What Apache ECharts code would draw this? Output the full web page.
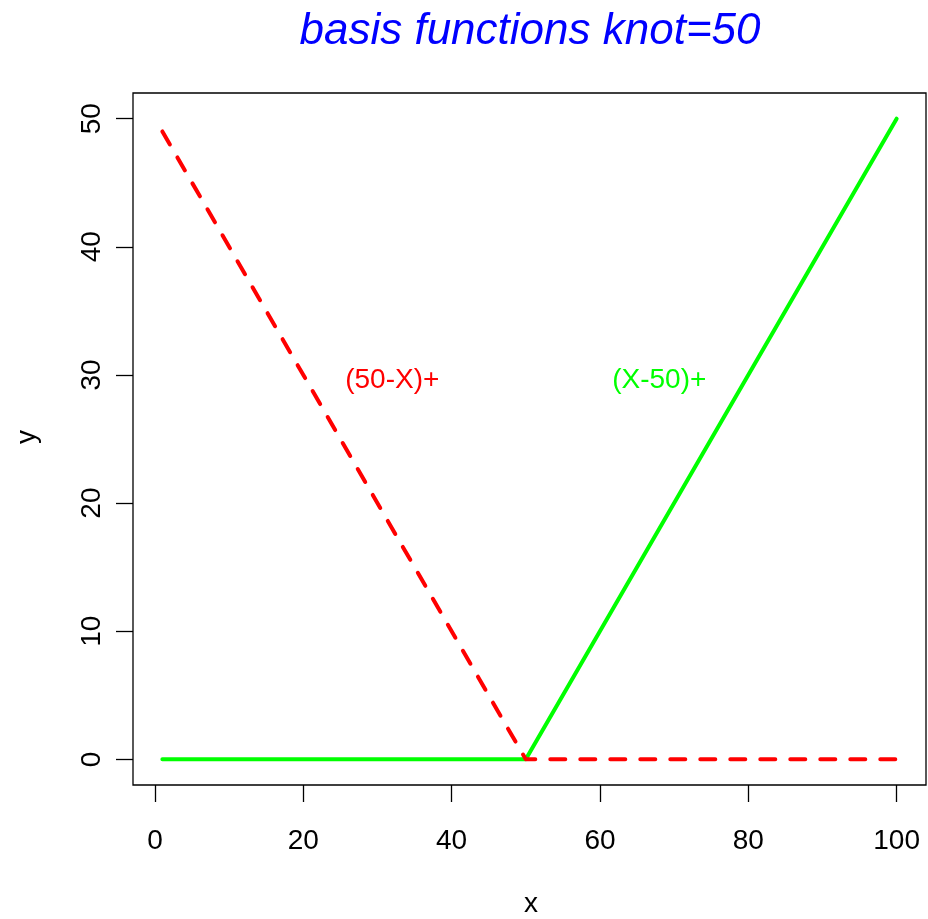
<!DOCTYPE html>
<html>
<head>
<meta charset="utf-8">
<script src="https://cdn.jsdelivr.net/npm/echarts@6/dist/echarts.min.js"></script>
<style>html,body{margin:0;padding:0;background:#fff;}#c{width:928px;height:919px;}</style>
</head>
<body>
<div id="c"></div>
<script>
// Data
var xVals = [1, 50, 100];
var redVals = [49, 0, 0];      // (50-X)+
var greenVals = [0, 0, 50];    // (X-50)+
var xTicks = [0, 20, 40, 60, 80, 100];
var yTicks = [0, 10, 20, 30, 40, 50];
var annTexts = ['(50-X)+', '(X-50)+'];
var annX = [32, 68];
var annY = [30, 30];
var annColors = ['#FF0000', '#00FF00'];
var titleText = 'basis functions knot=50';

var FONT = 'Liberation Sans';
var chart = echarts.init(document.getElementById('c'), null, {renderer: 'canvas'});

function pairs(xs, ys) { return xs.map(function (x, i) { return [x, ys[i]]; }); }

var annSeries = annTexts.map(function (t, i) {
  return {
    type: 'scatter',
    data: [[annX[i], annY[i]]],
    symbolSize: 0.001,
    silent: true,
    itemStyle: {color: annColors[i], opacity: 0},
    label: {
      show: true, position: 'inside', offset: [0, 5], formatter: t, opacity: 1,
      color: annColors[i], textBorderWidth: 0, fontFamily: FONT, fontSize: 28
    },
    z: 5
  };
});

chart.setOption({
  animation: false,
  backgroundColor: '#ffffff',
  grid: {
    left: 133, top: 93, right: 2, bottom: 134,
    show: true, borderColor: '#000', borderWidth: 1.3, backgroundColor: 'transparent'
  },
  xAxis: {
    type: 'value', min: -2.96, max: 103.96,
    axisLine: {show: false, onZero: false},
    splitLine: {show: false},
    axisTick: {show: true, customValues: xTicks, length: 17, inside: false, lineStyle: {color: '#000', width: 1.3}},
    axisLabel: {show: true, customValues: xTicks, margin: 42, color: '#000', fontFamily: FONT, fontSize: 28}
  },
  yAxis: {
    type: 'value', min: -2, max: 52,
    axisLine: {show: false, onZero: false},
    splitLine: {show: false},
    axisTick: {show: true, customValues: yTicks, length: 17, inside: false, lineStyle: {color: '#000', width: 1.3}},
    axisLabel: {show: true, customValues: yTicks, rotate: 90, margin: 27, color: '#000', fontFamily: FONT, fontSize: 28}
  },
  graphic: [
    {type: 'text', x: 530, y: 32, style: {text: titleText, fill: '#0000FF', font: 'italic 44px "Liberation Sans"', align: 'center', verticalAlign: 'middle'}},
    {type: 'text', x: 531, y: 904, style: {text: 'x', fill: '#000', font: '28px "Liberation Sans"', align: 'center', verticalAlign: 'middle'}},
    {type: 'text', x: 27, y: 437, rotation: Math.PI / 2,
     style: {text: 'y', fill: '#000', font: '28px "Liberation Sans"', align: 'center', verticalAlign: 'middle'}}
  ],
  series: [
    {
      type: 'line', data: pairs(xVals, greenVals), showSymbol: false, symbol: 'none',
      lineStyle: {color: '#00FF00', width: 4, cap: 'round', join: 'round'}, z: 3
    },
    {
      type: 'line', data: pairs(xVals, redVals), showSymbol: false, symbol: 'none',
      lineStyle: {color: '#FF0000', width: 4, type: [15, 15], cap: 'round', join: 'round'}, z: 4
    }
  ].concat(annSeries)
});
</script>
</body>
</html>
